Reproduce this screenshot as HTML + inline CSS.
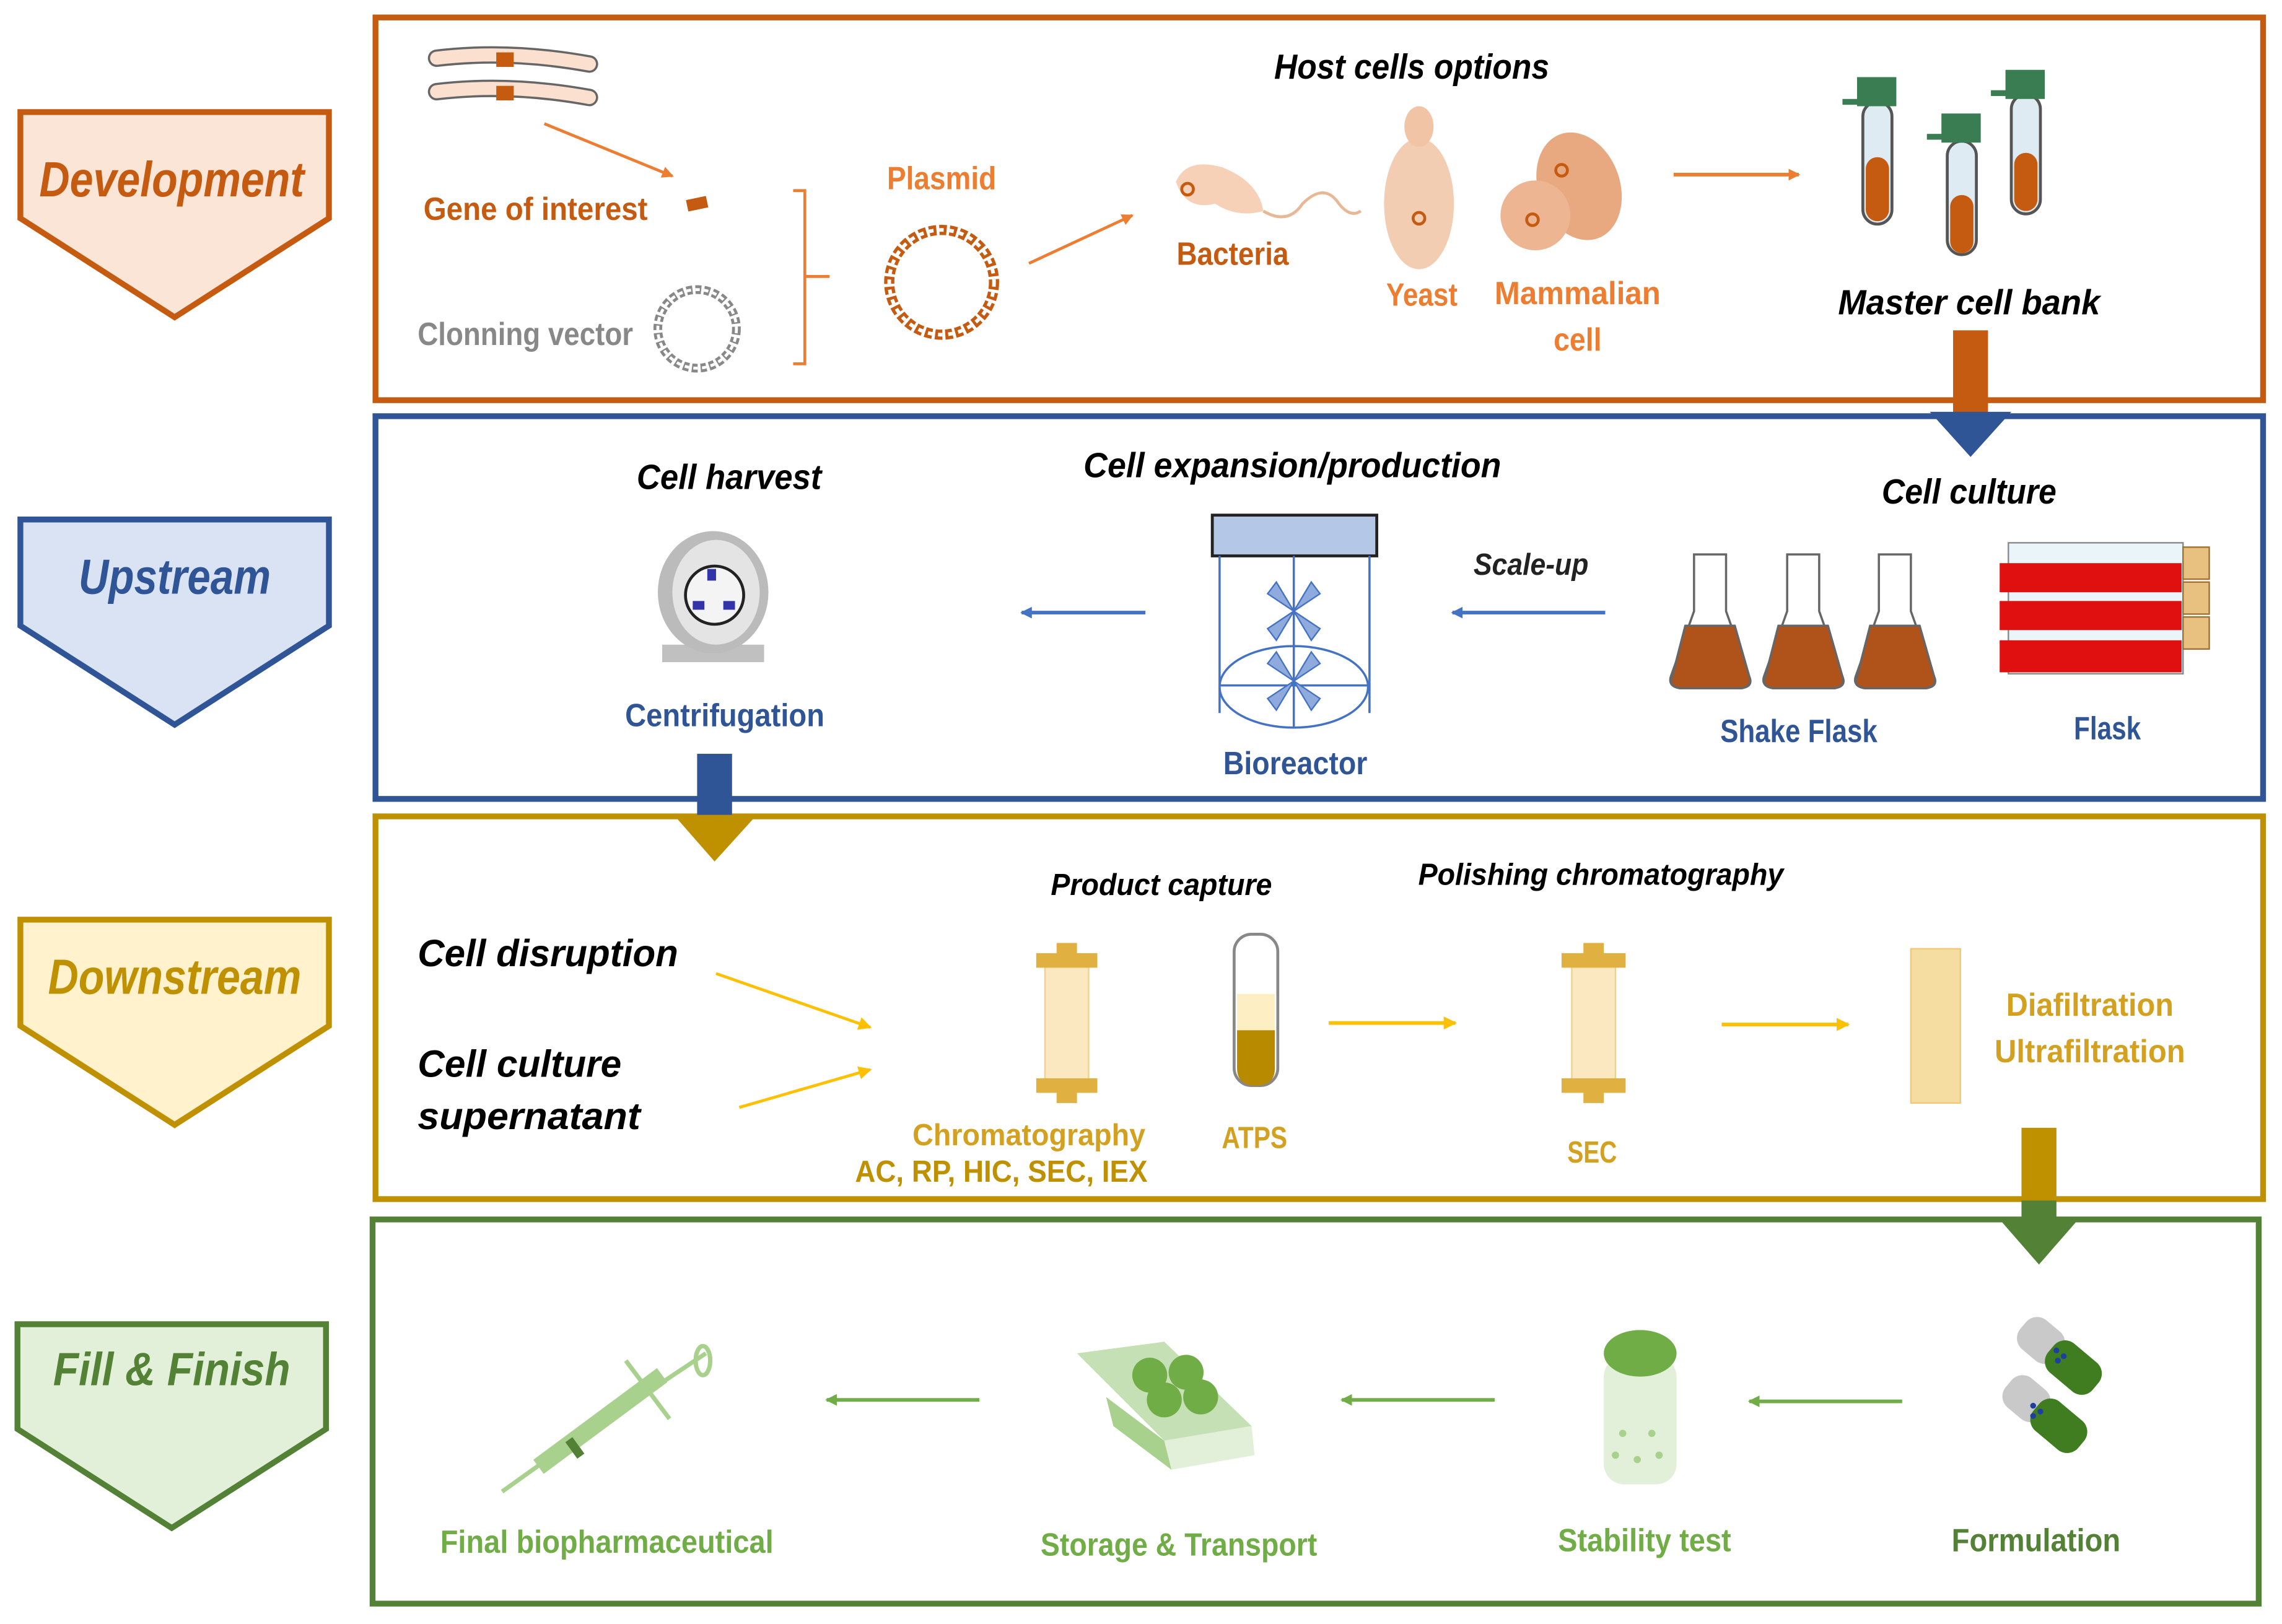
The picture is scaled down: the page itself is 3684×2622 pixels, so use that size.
<!DOCTYPE html>
<html><head><meta charset="utf-8"><style>
html,body{margin:0;padding:0;background:#fff}
svg{display:block}
text{font-family:"Liberation Sans Narrow","Liberation Sans",sans-serif;font-weight:bold}
.i{font-style:italic}
</style></head><body>
<svg width="3684" height="2622" viewBox="0 0 1568 1116" preserveAspectRatio="none" xmlns="http://www.w3.org/2000/svg">
<defs>
<marker id="ao" markerWidth="8" markerHeight="8" refX="7" refY="4" orient="auto" markerUnits="userSpaceOnUse"><path d="M0,0 L8,4 L0,8 z" fill="#ed7d31"/></marker>
<marker id="ab" markerWidth="8" markerHeight="8" refX="7" refY="4" orient="auto" markerUnits="userSpaceOnUse"><path d="M0,0 L8,4 L0,8 z" fill="#4472c4"/></marker>
<marker id="ay" markerWidth="9" markerHeight="9" refX="8" refY="4.5" orient="auto" markerUnits="userSpaceOnUse"><path d="M0,0 L9,4.5 L0,9 z" fill="#ffc000"/></marker>
<marker id="ag" markerWidth="8" markerHeight="8" refX="7" refY="4" orient="auto" markerUnits="userSpaceOnUse"><path d="M0,0 L8,4 L0,8 z" fill="#70ad47"/></marker>
</defs>

<!-- left pentagons -->
<path d="M14,77 H226 V150 L120,218 L14,150 Z" fill="#fbe5d6" stroke="#c55a11" stroke-width="4"/>
<text x="118" y="135" font-size="34" fill="#c55a11" text-anchor="middle" class="i" textLength="182" lengthAdjust="spacingAndGlyphs">Development</text>
<path d="M14,357 H226 V430 L120,498 L14,430 Z" fill="#dae3f3" stroke="#2f5597" stroke-width="4"/>
<text x="120" y="408" font-size="34" fill="#2f5597" text-anchor="middle" class="i" textLength="132" lengthAdjust="spacingAndGlyphs">Upstream</text>
<path d="M14,632 H226 V705 L120,773 L14,705 Z" fill="#fff2cc" stroke="#bf9000" stroke-width="4"/>
<text x="120" y="683" font-size="34" fill="#bf9000" text-anchor="middle" class="i" textLength="174" lengthAdjust="spacingAndGlyphs">Downstream</text>
<path d="M12,910 H224 V982 L118,1050 L12,982 Z" fill="#e2f0d9" stroke="#538135" stroke-width="4"/>
<text x="118" y="952" font-size="32" fill="#538135" text-anchor="middle" class="i" textLength="163" lengthAdjust="spacingAndGlyphs">Fill &amp; Finish</text>

<!-- boxes -->
<rect x="258" y="12" width="1297" height="263" fill="none" stroke="#c55a11" stroke-width="4"/>
<rect x="258" y="286" width="1297" height="263" fill="none" stroke="#2f5597" stroke-width="4"/>
<rect x="258" y="561" width="1297" height="263" fill="none" stroke="#bf9000" stroke-width="4"/>
<rect x="256" y="838" width="1296" height="264" fill="none" stroke="#538135" stroke-width="4"/>

<!-- ===== Development ===== -->
<path d="M300,40 Q350,34 405,44" stroke="#666" stroke-width="12" stroke-linecap="round" fill="none"/>
<path d="M300,40 Q350,34 405,44" stroke="#fbe0d0" stroke-width="9" stroke-linecap="round" fill="none"/>
<path d="M300,63 Q350,57 405,67" stroke="#666" stroke-width="12" stroke-linecap="round" fill="none"/>
<path d="M300,63 Q350,57 405,67" stroke="#fbe0d0" stroke-width="9" stroke-linecap="round" fill="none"/>
<rect x="341" y="36" width="12" height="10" fill="#c55a11"/>
<rect x="341" y="59" width="12" height="10" fill="#c55a11"/>
<line x1="374" y1="85" x2="462" y2="121" stroke="#ed7d31" stroke-width="2" marker-end="url(#ao)"/>
<text x="291" y="151" font-size="22" fill="#c55a11" textLength="154" lengthAdjust="spacingAndGlyphs">Gene of interest</text>
<rect x="472" y="136" width="14" height="8" fill="#c55a11" transform="rotate(-12 479 140)"/>
<text x="287" y="237" font-size="22" fill="#888" textLength="148" lengthAdjust="spacingAndGlyphs">Clonning vector</text>
<circle cx="479" cy="226" r="27" fill="none" stroke="#888" stroke-width="6" stroke-dasharray="4 2"/>
<circle cx="479" cy="226" r="27" fill="none" stroke="#fff" stroke-width="2" stroke-dasharray="3 3"/>
<path d="M545,131 H553 V250 H545 M553,190 H570" fill="none" stroke="#ed7d31" stroke-width="2"/>
<text x="647" y="130" font-size="22" fill="#ed7d31" text-anchor="middle" textLength="75" lengthAdjust="spacingAndGlyphs">Plasmid</text>
<circle cx="647" cy="194" r="36" fill="none" stroke="#c55a11" stroke-width="7" stroke-dasharray="5 2"/>
<circle cx="647" cy="194" r="36" fill="none" stroke="#fff" stroke-width="2.5" stroke-dasharray="3 4"/>
<line x1="707" y1="181" x2="778" y2="148" stroke="#ed7d31" stroke-width="2" marker-end="url(#ao)"/>
<text x="970" y="54" font-size="24" fill="#000" text-anchor="middle" class="i" textLength="189" lengthAdjust="spacingAndGlyphs">Host cells options</text>
<!-- bacteria -->
<path d="M808,125 Q815,108 840,115 Q865,125 868,145 Q850,150 835,140 Q815,145 808,125 Z" fill="#f4c9ab" opacity=".85"/>
<path d="M868,145 Q885,155 895,140 Q910,125 920,140 Q928,150 935,145" fill="none" stroke="#e8b896" stroke-width="2"/>
<circle cx="816" cy="130" r="4" fill="none" stroke="#c55a11" stroke-width="2"/>
<text x="847" y="182" font-size="22" fill="#c55a11" text-anchor="middle" textLength="77" lengthAdjust="spacingAndGlyphs">Bacteria</text>
<!-- yeast -->
<ellipse cx="975" cy="140" rx="24" ry="45" fill="#f0c4a4" opacity=".85"/>
<ellipse cx="975" cy="87" rx="10" ry="14" fill="#f0c4a4"/>
<circle cx="975" cy="150" r="4" fill="none" stroke="#c55a11" stroke-width="2"/>
<text x="977" y="210" font-size="22" fill="#ed7d31" text-anchor="middle" textLength="49" lengthAdjust="spacingAndGlyphs">Yeast</text>
<!-- mammalian -->
<ellipse cx="1085" cy="128" rx="28" ry="38" fill="#e8a880" transform="rotate(-20 1085 128)"/>
<ellipse cx="1055" cy="148" rx="24" ry="24" fill="#eeb592"/>
<circle cx="1073" cy="117" r="4" fill="none" stroke="#c55a11" stroke-width="2"/>
<circle cx="1053" cy="151" r="4" fill="none" stroke="#c55a11" stroke-width="2"/>
<text x="1084" y="209" font-size="22" fill="#ed7d31" text-anchor="middle" textLength="114" lengthAdjust="spacingAndGlyphs">Mammalian</text>
<text x="1084" y="241" font-size="22" fill="#ed7d31" text-anchor="middle" textLength="33" lengthAdjust="spacingAndGlyphs">cell</text>
<line x1="1150" y1="120" x2="1236" y2="120" stroke="#ed7d31" stroke-width="2.5" marker-end="url(#ao)"/>
<!-- tubes -->
<g>
<rect x="1280" y="70" width="20" height="84" rx="10" fill="#deebf3" stroke="#555" stroke-width="2"/>
<rect x="1282" y="108" width="16" height="44" rx="8" fill="#c55a11"/>
<rect x="1276" y="53" width="27" height="20" fill="#3a7d53"/><rect x="1266" y="68" width="12" height="4" fill="#3a7d53"/>
<rect x="1338" y="97" width="20" height="78" rx="10" fill="#deebf3" stroke="#555" stroke-width="2"/>
<rect x="1340" y="134" width="16" height="40" rx="8" fill="#c55a11"/>
<rect x="1334" y="78" width="27" height="20" fill="#3a7d53"/><rect x="1324" y="92" width="12" height="4" fill="#3a7d53"/>
<rect x="1382" y="65" width="20" height="82" rx="10" fill="#deebf3" stroke="#555" stroke-width="2"/>
<rect x="1384" y="105" width="16" height="40" rx="8" fill="#c55a11"/>
<rect x="1378" y="48" width="27" height="20" fill="#3a7d53"/><rect x="1368" y="62" width="12" height="4" fill="#3a7d53"/>
</g>
<text x="1353" y="216" font-size="24" fill="#000" text-anchor="middle" class="i" textLength="180" lengthAdjust="spacingAndGlyphs">Master cell bank</text>
<rect x="1342" y="227" width="24" height="57" fill="#c55a11"/>
<path d="M1326,283 H1382 L1354,314 Z" fill="#2f5597"/>

<!-- ===== Upstream ===== -->
<text x="501" y="336" font-size="24" fill="#000" text-anchor="middle" class="i" textLength="127" lengthAdjust="spacingAndGlyphs">Cell harvest</text>
<rect x="455" y="443" width="70" height="12" fill="#c0c0c0"/>
<ellipse cx="490" cy="407" rx="38" ry="42" fill="#bbb"/>
<ellipse cx="492" cy="407" rx="30" ry="36" fill="#e4e4e4"/>
<circle cx="491" cy="409" r="20" fill="#f4f4f4" stroke="#222" stroke-width="2"/>
<rect x="486" y="391" width="6" height="8" fill="#33a"/><rect x="476" y="413" width="8" height="6" fill="#33a"/><rect x="497" y="413" width="8" height="6" fill="#33a"/>
<text x="498" y="499" font-size="22" fill="#2f5597" text-anchor="middle" textLength="137" lengthAdjust="spacingAndGlyphs">Centrifugation</text>
<line x1="787" y1="421" x2="702" y2="421" stroke="#4472c4" stroke-width="2.5" marker-end="url(#ab)"/>
<text x="888" y="328" font-size="24" fill="#000" text-anchor="middle" class="i" textLength="287" lengthAdjust="spacingAndGlyphs">Cell expansion/production</text>
<rect x="833" y="354" width="113" height="28" fill="#b4c7e7" stroke="#222" stroke-width="2"/>
<path d="M838,382 V490 M941,382 V490" stroke="#4472c4" stroke-width="1.5"/>
<ellipse cx="889" cy="472" rx="51" ry="28" fill="none" stroke="#4472c4" stroke-width="1.5"/>
<line x1="889" y1="382" x2="889" y2="500" stroke="#4472c4" stroke-width="1.5"/>
<line x1="838" y1="471" x2="940" y2="471" stroke="#4472c4" stroke-width="1.5"/>
<g fill="#8faadc" stroke="#4472c4" stroke-width="1">
<path d="M889,420 l-18,-12 l6,-8 z M889,420 l18,-12 l-6,-8 z M889,420 l-18,12 l6,8 z M889,420 l18,12 l-6,8 z"/>
<path d="M889,468 l-18,-12 l6,-8 z M889,468 l18,-12 l-6,-8 z M889,468 l-18,12 l6,8 z M889,468 l18,12 l-6,8 z"/>
</g>
<text x="890" y="532" font-size="22" fill="#2f5597" text-anchor="middle" textLength="99" lengthAdjust="spacingAndGlyphs">Bioreactor</text>
<text x="1052" y="395" font-size="21" fill="#222" text-anchor="middle" class="i" font-weight="normal" textLength="79" lengthAdjust="spacingAndGlyphs">Scale-up</text>
<line x1="1103" y1="421" x2="998" y2="421" stroke="#4472c4" stroke-width="2.5" marker-end="url(#ab)"/>
<text x="1353" y="346" font-size="24" fill="#000" text-anchor="middle" class="i" textLength="120" lengthAdjust="spacingAndGlyphs">Cell culture</text>
<g stroke="#666" stroke-width="1.5">
<path d="M1164,381 V420 L1148,465 Q1146,472 1155,473 H1196 Q1205,472 1202,465 L1186,420 V381 Z" fill="#fff"/>
<path d="M1158,430 H1192 L1202,465 Q1204,472 1196,473 H1155 Q1146,472 1149,465 Z" fill="#b0531b"/>
<path d="M1228,381 V420 L1212,465 Q1210,472 1219,473 H1260 Q1269,472 1266,465 L1250,420 V381 Z" fill="#fff"/>
<path d="M1222,430 H1256 L1266,465 Q1268,472 1260,473 H1219 Q1210,472 1213,465 Z" fill="#b0531b"/>
<path d="M1291,381 V420 L1275,465 Q1273,472 1282,473 H1323 Q1332,472 1329,465 L1313,420 V381 Z" fill="#fff"/>
<path d="M1285,430 H1319 L1329,465 Q1331,472 1323,473 H1282 Q1273,472 1276,465 Z" fill="#b0531b"/>
</g>
<g>
<rect x="1380" y="373" width="120" height="90" fill="#eaf5fa" stroke="#888"/>
<rect x="1374" y="387" width="125" height="20" fill="#e01010"/>
<rect x="1374" y="413" width="125" height="20" fill="#e01010"/>
<rect x="1374" y="440" width="125" height="22" fill="#e01010"/>
<rect x="1500" y="376" width="18" height="22" fill="#e8c080" stroke="#a07030"/>
<rect x="1500" y="400" width="18" height="22" fill="#e8c080" stroke="#a07030"/>
<rect x="1500" y="424" width="18" height="22" fill="#e8c080" stroke="#a07030"/>
</g>
<text x="1236" y="510" font-size="22" fill="#2f5597" text-anchor="middle" textLength="108" lengthAdjust="spacingAndGlyphs">Shake Flask</text>
<text x="1448" y="508" font-size="22" fill="#2f5597" text-anchor="middle" textLength="46" lengthAdjust="spacingAndGlyphs">Flask</text>
<rect x="479" y="518" width="24" height="42" fill="#2f5597"/>
<path d="M463,560 H520 L491,592 Z" fill="#bf9000"/>

<!-- ===== Downstream ===== -->
<text x="287" y="664" font-size="26" fill="#000" class="i" textLength="179" lengthAdjust="spacingAndGlyphs">Cell disruption</text>
<text x="287" y="740" font-size="26" fill="#000" class="i" textLength="140" lengthAdjust="spacingAndGlyphs">Cell culture</text>
<text x="287" y="776" font-size="26" fill="#000" class="i" textLength="153" lengthAdjust="spacingAndGlyphs">supernatant</text>
<line x1="492" y1="669" x2="598" y2="706" stroke="#ffc000" stroke-width="2" marker-end="url(#ay)"/>
<line x1="508" y1="761" x2="598" y2="735" stroke="#ffc000" stroke-width="2" marker-end="url(#ay)"/>
<text x="798" y="615" font-size="21" fill="#000" text-anchor="middle" class="i" textLength="152" lengthAdjust="spacingAndGlyphs">Product capture</text>
<g>
<rect x="718" y="660" width="30" height="84" fill="#fbe7c0" stroke="#f0d090"/>
<rect x="712" y="655" width="42" height="10" fill="#e0b040"/><rect x="726" y="648" width="14" height="8" fill="#e0b040"/>
<rect x="712" y="741" width="42" height="10" fill="#e0b040"/><rect x="726" y="750" width="14" height="8" fill="#e0b040"/>
</g>
<text x="707" y="787" font-size="21" fill="#d4a020" text-anchor="middle" textLength="160" lengthAdjust="spacingAndGlyphs">Chromatography</text>
<text x="688" y="812" font-size="21" fill="#bf9000" text-anchor="middle" textLength="201" lengthAdjust="spacingAndGlyphs">AC, RP, HIC, SEC, IEX</text>
<rect x="848" y="642" width="30" height="104" rx="12" fill="#fff" stroke="#888" stroke-width="2"/>
<rect x="850" y="683" width="26" height="25" fill="#fdeec4"/>
<path d="M850,708 H876 V734 Q876,746 863,746 Q850,746 850,734 Z" fill="#b88a00"/>
<text x="862" y="789" font-size="21" fill="#d4a020" text-anchor="middle" textLength="45" lengthAdjust="spacingAndGlyphs">ATPS</text>
<line x1="913" y1="703" x2="1000" y2="703" stroke="#ffc000" stroke-width="2.5" marker-end="url(#ay)"/>
<text x="1100" y="608" font-size="21" fill="#000" text-anchor="middle" class="i" textLength="251" lengthAdjust="spacingAndGlyphs">Polishing chromatography</text>
<g>
<rect x="1080" y="660" width="30" height="84" fill="#fbe7c0" stroke="#f0d090"/>
<rect x="1073" y="655" width="44" height="10" fill="#e0b040"/><rect x="1088" y="648" width="14" height="8" fill="#e0b040"/>
<rect x="1073" y="741" width="44" height="10" fill="#e0b040"/><rect x="1088" y="750" width="14" height="8" fill="#e0b040"/>
</g>
<text x="1094" y="799" font-size="21" fill="#d4a020" text-anchor="middle" textLength="34" lengthAdjust="spacingAndGlyphs">SEC</text>
<line x1="1183" y1="704" x2="1270" y2="704" stroke="#ffc000" stroke-width="2.5" marker-end="url(#ay)"/>
<rect x="1313" y="652" width="34" height="106" fill="#f5dca0" stroke="#f0c878"/>
<text x="1436" y="698" font-size="22" fill="#d4a020" text-anchor="middle" textLength="115" lengthAdjust="spacingAndGlyphs">Diafiltration</text>
<text x="1436" y="730" font-size="22" fill="#d4a020" text-anchor="middle" textLength="131" lengthAdjust="spacingAndGlyphs">Ultrafiltration</text>
<rect x="1389" y="775" width="24" height="50" fill="#bf9000"/>
<rect x="1389" y="825" width="24" height="15" fill="#538135"/>
<path d="M1374,838 H1428 L1401,869 Z" fill="#538135"/>

<!-- ===== Fill & Finish ===== -->
<g stroke="#a9d18e" stroke-width="3" fill="none">
<line x1="345" y1="1025" x2="380" y2="1000"/>
<line x1="370" y1="1008" x2="455" y2="945" stroke-width="12"/>
<line x1="430" y1="935" x2="460" y2="975"/>
<line x1="455" y1="950" x2="485" y2="930"/>
<ellipse cx="483" cy="935" rx="5" ry="10"/>
</g>
<rect x="392" y="988" width="6" height="14" fill="#538135" transform="rotate(-36 395 995)"/>
<text x="417" y="1067" font-size="22" fill="#70ad47" text-anchor="middle" textLength="229" lengthAdjust="spacingAndGlyphs">Final biopharmaceutical</text>
<line x1="673" y1="962" x2="568" y2="962" stroke="#70ad47" stroke-width="2.5" marker-end="url(#ag)"/>
<g>
<path d="M740,930 L800,922 L860,980 L800,990 Z" fill="#c5e0b4"/>
<path d="M760,960 L800,990 L805,1010 L765,980 Z" fill="#a9d18e"/>
<path d="M800,990 L860,980 L862,1000 L805,1010 Z" fill="#e2f0d9"/>
<circle cx="790" cy="945" r="12" fill="#70ad47"/><circle cx="815" cy="943" r="12" fill="#70ad47"/>
<circle cx="800" cy="962" r="12" fill="#70ad47"/><circle cx="825" cy="960" r="12" fill="#70ad47"/>
</g>
<text x="810" y="1069" font-size="22" fill="#70ad47" text-anchor="middle" textLength="190" lengthAdjust="spacingAndGlyphs">Storage &amp; Transport</text>
<line x1="1027" y1="962" x2="922" y2="962" stroke="#70ad47" stroke-width="2.5" marker-end="url(#ag)"/>
<rect x="1102" y="932" width="50" height="88" rx="14" fill="#e2f0d9"/>
<ellipse cx="1127" cy="930" rx="25" ry="16" fill="#70ad47"/>
<g fill="#a9d18e"><circle cx="1115" cy="985" r="2.5"/><circle cx="1135" cy="985" r="2.5"/><circle cx="1110" cy="1000" r="2.5"/><circle cx="1125" cy="1003" r="2.5"/><circle cx="1140" cy="1000" r="2.5"/></g>
<text x="1130" y="1066" font-size="22" fill="#70ad47" text-anchor="middle" textLength="119" lengthAdjust="spacingAndGlyphs">Stability test</text>
<line x1="1307" y1="963" x2="1202" y2="963" stroke="#70ad47" stroke-width="2.5" marker-end="url(#ag)"/>
<g transform="rotate(40 1407 925)"><rect x="1385" y="912" width="32" height="26" rx="10" fill="#c9c9c9"/><rect x="1410" y="912" width="40" height="26" rx="10" fill="#3f7d20"/></g>
<g transform="rotate(40 1397 965)"><rect x="1375" y="952" width="32" height="26" rx="10" fill="#c9c9c9"/><rect x="1400" y="952" width="40" height="26" rx="10" fill="#3f7d20"/></g>
<g fill="#1f3fa0"><circle cx="1413" cy="928" r="2"/><circle cx="1418" cy="932" r="2"/><circle cx="1414" cy="935" r="2"/><circle cx="1397" cy="966" r="2"/><circle cx="1402" cy="970" r="2"/><circle cx="1397" cy="973" r="2"/></g>
<text x="1399" y="1066" font-size="22" fill="#538135" text-anchor="middle" textLength="116" lengthAdjust="spacingAndGlyphs">Formulation</text>
</svg>
</body></html>
